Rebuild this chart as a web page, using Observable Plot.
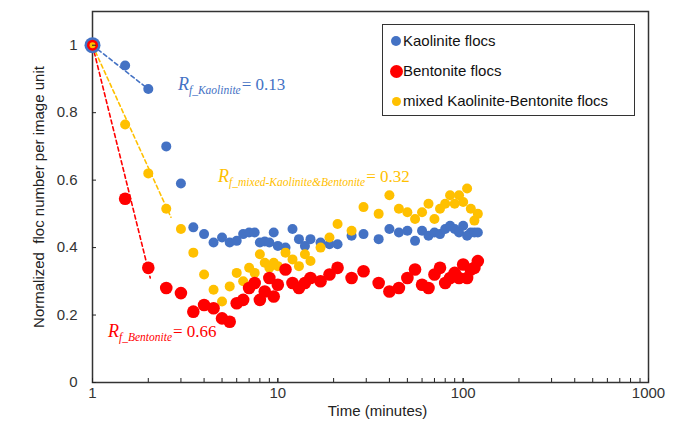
<!DOCTYPE html>
<html>
<head>
<meta charset="utf-8">
<script src="https://cdn.jsdelivr.net/npm/d3@7"></script>
<script src="https://cdn.jsdelivr.net/npm/@observablehq/plot@0.6"></script>
<style>
  html, body { margin: 0; padding: 0; background: #fff; }
  #wrap { position: relative; width: 681px; height: 433px; }
  #legend {
    position: absolute; left: 382px; top: 24px; width: 251px; height: 90px;
    border: 1.5px solid #333; background: #fff;
    font-family: "Liberation Sans", Arial, sans-serif; font-size: 15px; color: #111;
  }
  #legend .item { position: absolute; left: 0; height: 20px; line-height: 20px; white-space: nowrap; }
  #legend .sw { position: absolute; border-radius: 50%; }
  #legend .lab { position: absolute; left: 20px; top: 0; }
</style>
</head>
<body>
<div id="wrap"></div>
<script>
// ---- data ----
const times = [1, 1.5, 2, 2.5, 3, 3.5, 4, 4.5, 5, 5.5, 6, 6.5, 7, 7.5, 8, 8.5, 9, 9.5, 10, 11, 12, 13, 14, 15, 17, 19, 21, 25, 29, 35, 40, 45, 50, 55, 60, 65, 70, 75, 80, 85, 90, 95, 100, 105, 110, 115, 120];
const kaolinite = [1.00, 0.94, 0.87, 0.70, 0.59, 0.46, 0.44, 0.415, 0.43, 0.415, 0.42, 0.44, 0.445, 0.445, 0.415, 0.418, 0.415, 0.445, 0.405, 0.40, 0.455, 0.425, 0.405, 0.425, 0.415, 0.41, 0.41, 0.435, 0.44, 0.425, 0.455, 0.445, 0.45, 0.42, 0.45, 0.435, 0.445, 0.44, 0.455, 0.465, 0.455, 0.445, 0.465, 0.435, 0.445, 0.445, 0.445];
const bentonite = [1.00, 0.545, 0.34, 0.28, 0.265, 0.21, 0.23, 0.22, 0.19, 0.18, 0.235, 0.245, 0.28, 0.295, 0.245, 0.27, 0.31, 0.255, 0.29, 0.335, 0.295, 0.28, 0.295, 0.31, 0.30, 0.32, 0.34, 0.31, 0.33, 0.295, 0.27, 0.28, 0.31, 0.335, 0.29, 0.28, 0.32, 0.34, 0.295, 0.31, 0.325, 0.31, 0.35, 0.31, 0.335, 0.34, 0.36];
const mixed = [1.00, 0.765, 0.62, 0.515, 0.455, 0.385, 0.32, 0.275, 0.24, 0.285, 0.325, 0.30, 0.34, 0.325, 0.38, 0.355, 0.34, 0.355, 0.345, 0.385, 0.365, 0.345, 0.38, 0.36, 0.40, 0.43, 0.47, 0.45, 0.52, 0.50, 0.555, 0.515, 0.505, 0.485, 0.505, 0.53, 0.485, 0.515, 0.53, 0.555, 0.53, 0.555, 0.535, 0.575, 0.515, 0.48, 0.50];

const seriesNames = ["Kaolinite flocs", "Bentonite flocs", "mixed Kaolinite-Bentonite flocs"];
const seriesColors = ["#4472C4", "#FF0000", "#FFC000"];

// dashed fit lines from (1, 1) to an end point
const fitEndTime = [2, 2.05, 2.65];
const fitEndValue = [0.87, 0.31, 0.49];

const rfLabels = ["f_Kaolinite", "f_Bentonite", "f_mixed-Kaolinite&Bentonite"];
const rfValues = ["0.13", "0.66", "0.32"];

const yTicks = [0, 0.2, 0.4, 0.6, 0.8, 1];
const xMajor = [1, 10, 100, 1000];
const xMinor = [];
for (const d of [1, 10, 100]) for (let k = 1; k <= 9; k++) xMinor.push(d * k);
xMinor.push(1000);

// ---- build tables ----
const valueArrays = [kaolinite, bentonite, mixed];
const rows = [];
valueArrays.forEach((vals, s) => vals.forEach((v, i) => rows.push({series: s, time: times[i], value: v, first: i === 0})));
const fits = [];
fitEndTime.forEach((t, s) => { fits.push({series: s, time: 1, value: 1}); fits.push({series: s, time: t, value: fitEndValue[s]}); });

const dotR = [5, 6.3, 5];
const firstR = [8, 5.5, 3];
const drawOrder = [0, 2, 1];

const marks = [];
marks.push(Plot.frame({stroke: "#333", strokeWidth: 1.5}));
for (const s of drawOrder) {
  marks.push(Plot.dot(rows.filter(d => d.series === s && !d.first), {x: "time", y: "value", r: dotR[s], fill: seriesColors[s], stroke: "none"}));
}
for (const s of [0, 1, 2]) {
  marks.push(Plot.line(fits.filter(d => d.series === s), {x: "time", y: "value", stroke: seriesColors[s], strokeWidth: 1.6, strokeDasharray: "4,3"}));
}
for (const s of [0, 1, 2]) {
  marks.push(Plot.dot(rows.filter(d => d.series === s && d.first), {x: "time", y: "value", r: firstR[s], fill: seriesColors[s], stroke: "none"}));
}
marks.push(Plot.axisY({ticks: yTicks, tickSize: -4, tickPadding: 19, tickFormat: d => String(+d.toFixed(1)), label: null, fontSize: 15, fill: "#333"}));
marks.push(Plot.axisX({ticks: xMinor, tickSize: -4, tickFormat: () => "", label: null}));
marks.push(Plot.axisX({ticks: xMajor, tickSize: -4, tickPadding: 9, tickFormat: d => String(d), label: null, fontSize: 15, fill: "#333"}));
marks.push(Plot.text(["Time (minutes)"], {frameAnchor: "bottom", dy: 33, dx: 7, fontSize: 15, fill: "#222"}));
marks.push(Plot.text(["Normalized  floc number per image unit"], {frameAnchor: "left", textAnchor: "middle", dx: -53, rotate: -90, fontSize: 15, fill: "#222"}));

const chart = Plot.plot({
  width: 681, height: 433,
  marginLeft: 92, marginRight: 33, marginTop: 11, marginBottom: 51,
  style: {fontFamily: "'Liberation Sans', Arial, sans-serif", fontSize: "15px", background: "#fff", color: "#222"},
  x: {type: "log", domain: [1, 1000]},
  y: {domain: [0, 1.1]},
  marks
});
document.getElementById("wrap").appendChild(chart);

// ---- Rf annotations (positioned in data coordinates via the plot scales) ----
const annotAt = [{t: 2.91, v: 0.867}, {t: 1.22, v: 0.133}, {t: 4.79, v: 0.592}];
const xs = chart.scale("x"), ys = chart.scale("y");
const svg = d3.select(chart);
[0, 1, 2].forEach(s => {
  const t = svg.append("text")
    .attr("x", xs.apply(annotAt[s].t))
    .attr("y", ys.apply(annotAt[s].v))
    .attr("text-anchor", "start")
    .attr("fill", seriesColors[s])
    .attr("font-family", "'Liberation Serif', 'Times New Roman', serif");
  t.append("tspan").attr("font-style", "italic").attr("font-size", 18).text("R");
  t.append("tspan").attr("font-style", "italic").attr("font-size", 11.5).attr("dy", 4).text(rfLabels[s]);
  t.append("tspan").attr("font-size", 17).attr("dy", -4).attr("dx", 1).text("= " + rfValues[s]);
});

// ---- legend ----
const legend = d3.select("#wrap").append("div").attr("id", "legend");
const legR = [5, 6.5, 4.5];
seriesNames.forEach((name, s) => {
  const item = legend.append("div").attr("class", "item").style("top", (6 + s * 30) + "px");
  item.append("span").attr("class", "sw")
    .style("left", (13 - legR[s]) + "px").style("top", (10 - legR[s]) + "px")
    .style("width", 2 * legR[s] + "px").style("height", 2 * legR[s] + "px")
    .style("background", seriesColors[s]);
  item.append("span").attr("class", "lab").text(name);
});
</script>
</body>
</html>
